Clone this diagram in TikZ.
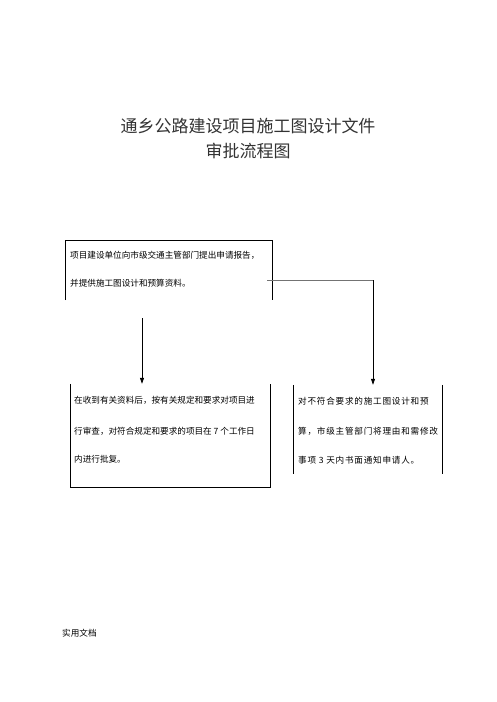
\documentclass[tikz,border=0pt]{standalone}
\usepackage{fontspec}
\setmainfont{Noto Sans CJK SC}
\newfontfamily\cjk{Noto Sans CJK SC}
\newfontfamily\cjkwide[LetterSpace=9]{Noto Sans CJK SC}
\usetikzlibrary{arrows.meta}
\begin{document}
\begin{tikzpicture}[x=1pt,y=-1pt,
  txt/.style={anchor=west,inner sep=0pt,font=\cjk\fontsize{8.6pt}{9pt}\selectfont},
  txtw/.style={anchor=west,inner sep=0pt,font=\cjkwide\fontsize{8.6pt}{9pt}\selectfont},
  ttl/.style={inner sep=0pt,font=\cjk\fontsize{17pt}{18pt}\selectfont,text=black!80},
  area/.style={draw=none,rectangle,inner sep=0pt},
  edge/.style={line width=0.7pt,black},
  conn/.style={line width=0.7pt,black,-{Triangle[length=6pt,width=4pt]}},
  connh/.style={line width=0.9pt,black!55}]
\useasboundingbox[fill=white] (0,0) rectangle (496,702);
% title
\node[ttl] (t1) at (248,126) {通乡公路建设项目施工图设计文件};
\node[ttl] (t2) at (248,151) {审批流程图};
% box areas
\node[area,minimum width=206pt,minimum height=59pt] (b1) at (169,270.5) {};
\node[area,minimum width=199pt,minimum height=103pt] (b2) at (170.5,435.5) {};
\node[area,minimum width=148pt,minimum height=89pt] (b3) at (368,429.5) {};
% box borders
\draw[edge] (b1.south west) -- (b1.north west) -- (b1.north east) -- (b1.south east);
\draw[edge] (b2.north west) -- (b2.south west) -- (b2.south east) -- (b2.north east);
\draw[edge] (b3.north west) -- (b3.south west);
\draw[edge] (b3.north east) -- (b3.south east);
% texts
\node[txt] (a1) at (70,255) {项目建设单位向市级交通主管部门提出申请报告，};
\node[txt] (a2) at (70,283) {并提供施工图设计和预算资料。};
\node[txt] (c1) at (74,400) {在收到有关资料后，按有关规定和要求对项目进};
\node[txt] (c2) at (74,431) {行审查，对符合规定和要求的项目在 7 个工作日};
\node[txt] (c3) at (74,459) {内进行批复。};
\node[txtw] (d1) at (298,401) {对不符合要求的施工图设计和预};
\node[txtw] (d2) at (298,431) {算，市级主管部门将理由和需修改};
\node[txtw] (d3) at (298,460) {事项 3 天内书面通知申请人。};
\node[txt] (f1) at (62,633) {实用文档};
% connectors
\coordinate (s1) at (142,318);
\coordinate (s2) at (267,280);
\coordinate (k2) at (373,280);
\draw[conn] (s1) -- (s1 |- b2.north);
\draw[connh] (s2) -- (k2);
\draw[conn] (k2) -- (k2 |- b3.north);
\end{tikzpicture}
\end{document}
